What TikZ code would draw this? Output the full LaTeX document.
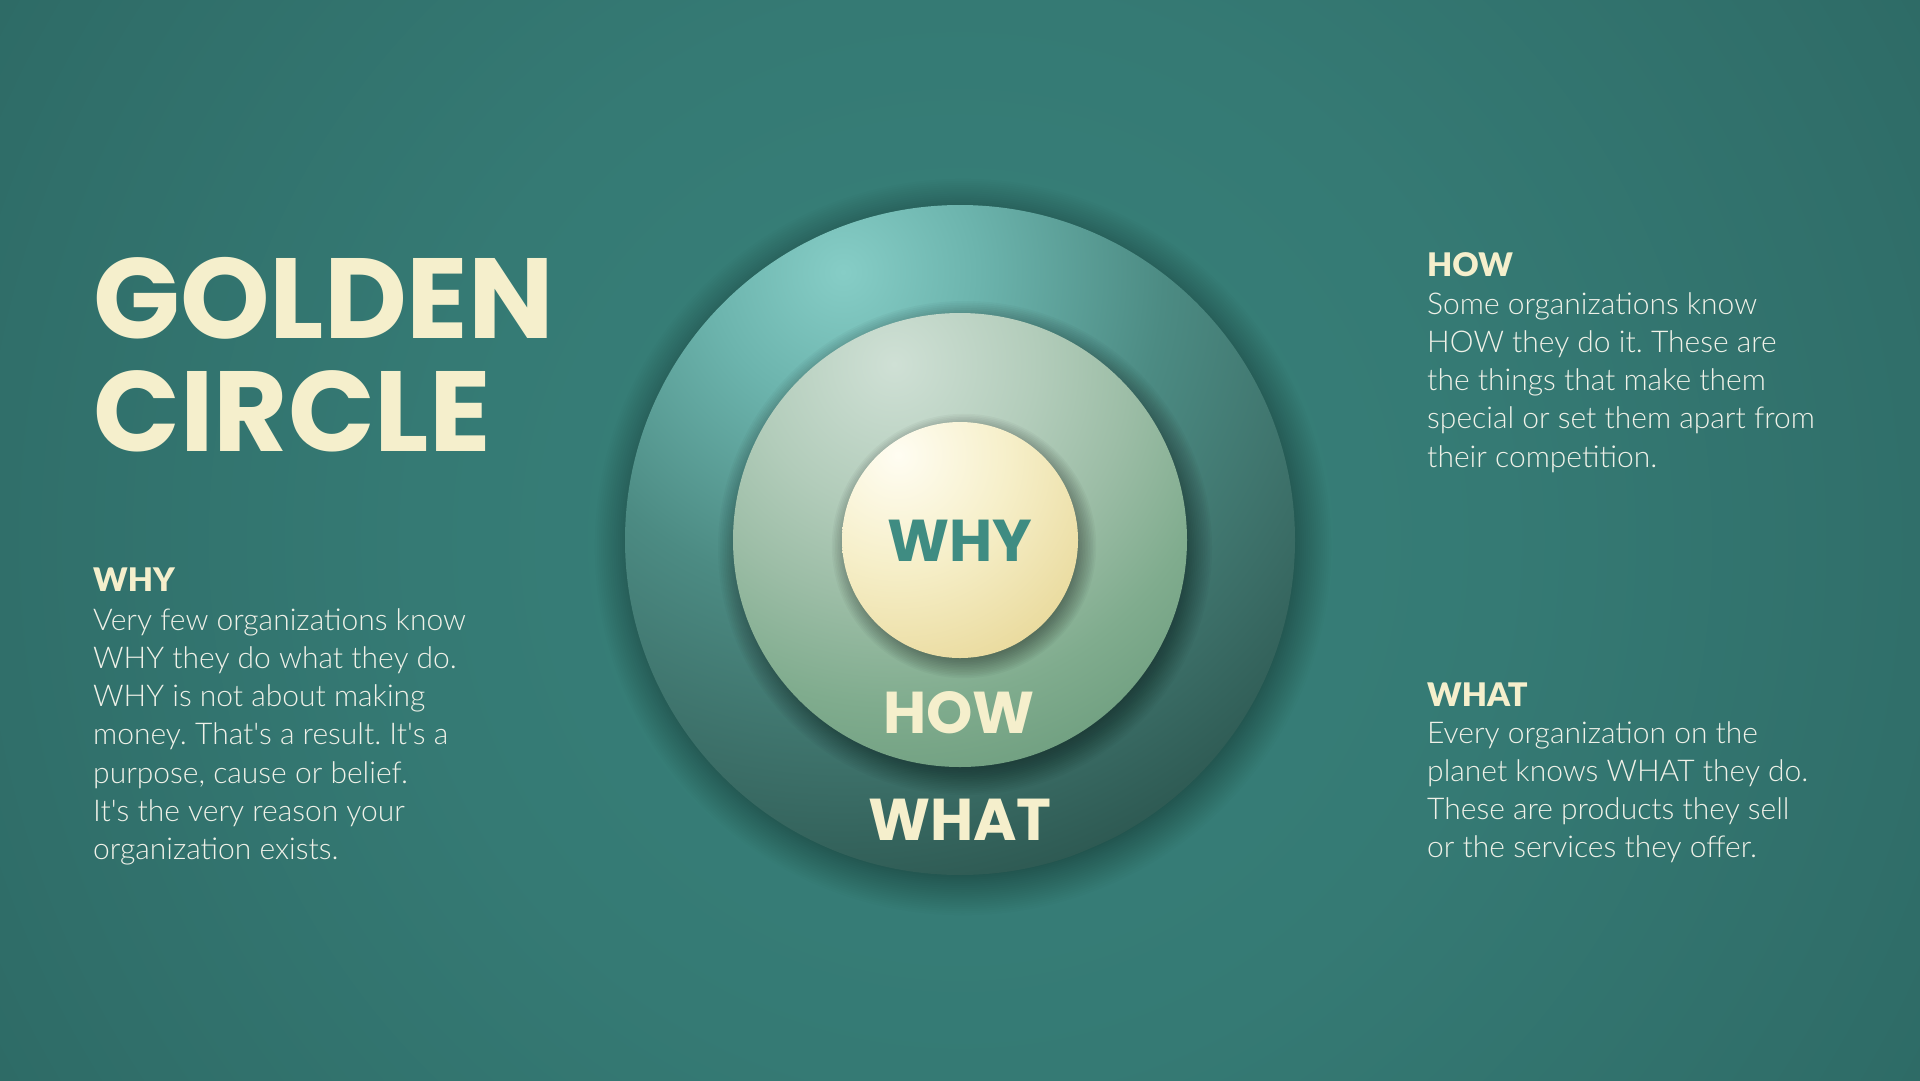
\documentclass[tikz,border=0pt]{standalone}
\usepackage{fontspec}
\newfontfamily\popfont{Poppins}
\newfontfamily\latolight{Lato Light}
\newfontfamily\latoblack{Lato Black}
\frenchspacing
\definecolor{bgA}{HTML}{38827B}
\definecolor{bgB}{HTML}{357A74}
\definecolor{bgC}{HTML}{306F6A}
\definecolor{bgD}{HTML}{2E6B66}
\definecolor{cream}{HTML}{F5EFCC}
\definecolor{bodytxt}{HTML}{EFF1E8}
\definecolor{whytxt}{HTML}{3F8C82}
\definecolor{oA}{HTML}{86CDC6}
\definecolor{oB}{HTML}{6CB4AD}
\definecolor{oC}{HTML}{4C8B83}
\definecolor{oD}{HTML}{3A6C65}
\definecolor{oE}{HTML}{2E5A53}
\definecolor{mA}{HTML}{CFE0D5}
\definecolor{mB}{HTML}{B2CCBA}
\definecolor{mC}{HTML}{9CBDA6}
\definecolor{mD}{HTML}{80AC8E}
\definecolor{mE}{HTML}{72A182}
\definecolor{iA}{HTML}{FFFDF2}
\definecolor{iB}{HTML}{F6EFC9}
\definecolor{iC}{HTML}{EADB9F}
\pgfdeclareradialshading{bgsh}{\pgfpoint{0bp}{0bp}}{color(0bp)=(bgA); color(12.3bp)=(bgB); color(21.8bp)=(bgC); color(25bp)=(bgD); color(50bp)=(bgD)}
\pgfdeclareradialshading{outersh}{\pgfpoint{0bp}{0bp}}{color(0bp)=(oA); color(5.4bp)=(oB); color(12.8bp)=(oC); color(20.7bp)=(oD); color(25bp)=(oE); color(50bp)=(oE)}
\pgfdeclareradialshading{middlesh}{\pgfpoint{0bp}{0bp}}{color(0bp)=(mA); color(8.7bp)=(mB); color(14.3bp)=(mC); color(20.5bp)=(mD); color(25bp)=(mE); color(50bp)=(mE)}
\pgfdeclareradialshading{innersh}{\pgfpoint{0bp}{0bp}}{color(0bp)=(iA); color(12.5bp)=(iB); color(25bp)=(iC); color(50bp)=(iC)}
\tikzset{
  titletxt/.style={anchor=base west, inner sep=0, text=cream, font=\popfont\bfseries\fontsize{114}{114}\selectfont},
  ringtxt/.style={anchor=base, inner sep=0, font=\popfont\bfseries\fontsize{59}{59}\selectfont},
  headtxt/.style={anchor=base west, inner sep=0, text=cream, font=\latoblack\fontsize{32.5}{36}\selectfont},
  linetxt/.style={anchor=base west, inner sep=0, text=bodytxt, font=\latolight\fontsize{30}{36}\selectfont},
}
\begin{document}
\begin{tikzpicture}[x=1pt,y=-1pt]
\useasboundingbox (0,0) rectangle (1920,1080);
% background
\begin{scope}
  \clip (0,0) rectangle (1920,1080);
  \shade[shading=bgsh] (960,540) circle (1102);
\end{scope}
% outer circle shadow
\foreach \k in {0,...,21} \fill[black,opacity=0.016] (963,547) circle ({324+\k*2.1});
% outer circle
\begin{scope}
  \clip (960,540) circle (335);
  \shade[shading=outersh] (843,272) circle (627);
  % middle circle shadow
  \foreach \k in {0,...,15} \fill[black,opacity=0.028] (965,548) circle ({220+\k*1.8});
\end{scope}
% middle circle
\begin{scope}
  \clip (960,540) circle (227);
  \shade[shading=middlesh] (894,364) circle (415);
  % inner circle shadow
  \foreach \k in {0,...,12} \fill[black,opacity=0.03] (964,546) circle ({113+\k*1.6});
\end{scope}
% inner circle
\begin{scope}
  \clip (960,540) circle (118);
  \shade[shading=innersh] (898,455) circle (223);
\end{scope}
% ring labels
\node[ringtxt, text=whytxt] (rwhy) at (960,561) {WHY};
\node[ringtxt, text=cream] (rhow) at (959,733) {HOW};
\node[ringtxt, text=cream] (rwhat) at (960,840) {WHAT};
% title
\node[titletxt] (t1) at (93,338) {GOLDEN};
\node[titletxt] (t2) at (93,451) {CIRCLE};
% left WHY block
\node[headtxt] (hwhy) at (93,591) {WHY};
\foreach \t [count=\i] in {Very few organizations know, WHY they do what they do., WHY is not about making, {money. That's a result. It's a}, {purpose, cause or belief.}, It's the very reason your, organization exists.}
  \node[linetxt] (lw\i) at (93,{630+(\i-1)*38.3}) {\t};
% right HOW block
\node[headtxt] (hhow) at (1427,276) {HOW};
\foreach \t [count=\i] in {Some organizations know, HOW they do it. These are, the things that make them, special or set them apart from, their competition.}
  \node[linetxt] (lh\i) at (1427,{314+(\i-1)*38.3}) {\t};
% right WHAT block
\node[headtxt] (hwhat) at (1427,706) {WHAT};
\foreach \t [count=\i] in {Every organization on the, planet knows WHAT they do., These are products they sell, or the services they offer.}
  \node[linetxt] (lt\i) at (1427,{743+(\i-1)*38.3}) {\t};
\end{tikzpicture}
\end{document}
